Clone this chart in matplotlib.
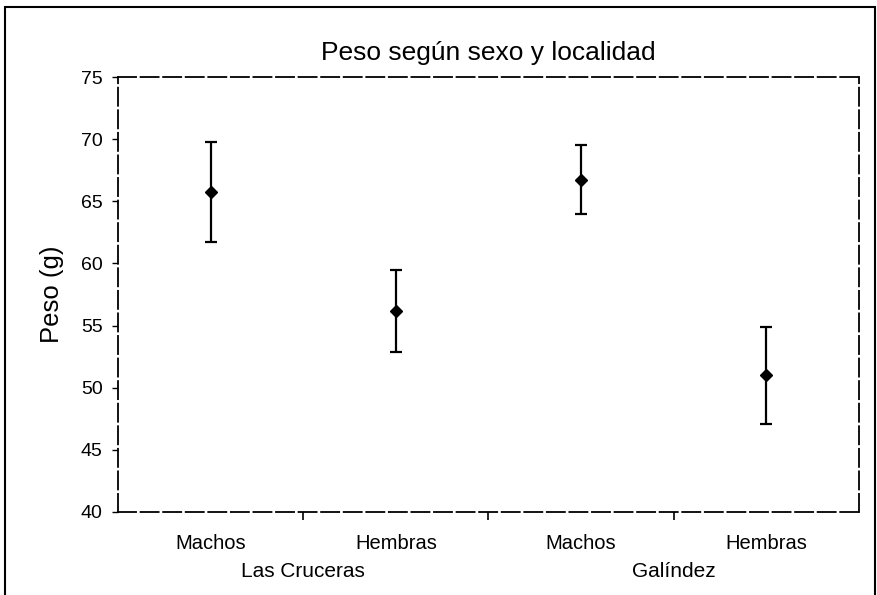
import matplotlib
matplotlib.use("Agg")
import matplotlib.pyplot as plt
from matplotlib.patches import Rectangle

plt.rcParams['font.family'] = ['Liberation Sans', 'DejaVu Sans']

categories = ["Machos", "Hembras", "Machos", "Hembras"]
groups = ["Las Cruceras", "Galíndez"]
means = [65.75, 56.2, 66.75, 51.0]
upper = [69.8, 59.5, 69.5, 54.9]
lower = [61.7, 52.9, 64.0, 47.1]
yticks = [40, 45, 50, 55, 60, 65, 70, 75]

fig = plt.figure(figsize=(8.78, 5.95), dpi=100)
ax = fig.add_axes([118/878, 83/595, 741/878, 435/595])

x = list(range(len(categories)))
err_lo = [m - l for m, l in zip(means, lower)]
err_hi = [u - m for m, u in zip(means, upper)]
ax.errorbar(x, means, yerr=[err_lo, err_hi], fmt='D', color='black',
            ecolor='black', elinewidth=1.6, capsize=4.5, capthick=1.6,
            markersize=6.5)

ax.set_xlim(-0.5, 3.5)
ax.set_ylim(40, 75)
ax.set_yticks(yticks)
ax.set_yticklabels([str(t) for t in yticks])
ax.set_xticks(x)
ax.set_xticklabels(categories, fontsize=14.5)
ax.set_xticks([0.5, 1.5, 2.5], minor=True)
ax.tick_params(axis='x', which='major', length=0, pad=16)
ax.tick_params(axis='x', which='minor', length=6, width=1.2, direction='out')
ax.tick_params(axis='y', length=4, width=1, direction='out', pad=7, labelsize=14)

for s in ax.spines.values():
    s.set_linestyle((0, (10, 2.5)))
    s.set_linewidth(1.3)

ax.set_title("Peso según sexo y localidad", fontsize=19, pad=12)
ax.set_ylabel("Peso (g)", fontsize=18.5, labelpad=12)

for gi, g in enumerate(groups):
    ax.text(gi * 2 + 0.5, -0.115, g, transform=ax.get_xaxis_transform(),
            ha='center', va='top', fontsize=15)

fig.patches.append(Rectangle((5/878, -0.05), 870/878, 1.0 - 7/595 + 0.05,
                             transform=fig.transFigure, fill=False,
                             edgecolor='black', linewidth=1.5))

fig.savefig("out.png", dpi=100)
